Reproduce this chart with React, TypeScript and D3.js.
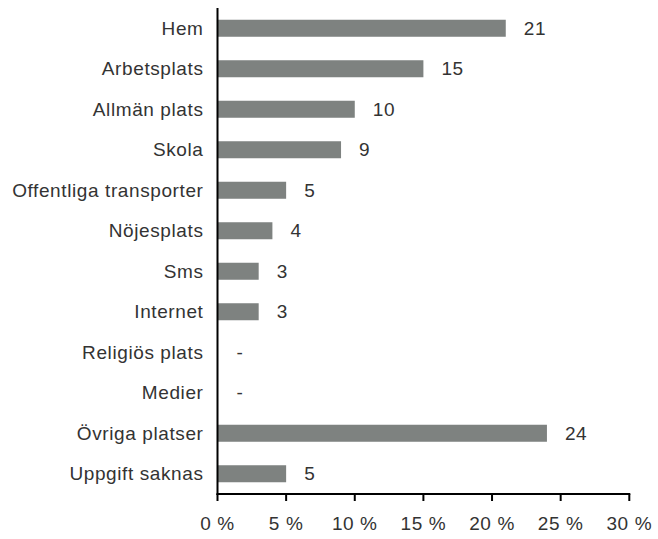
import React from "react";
import * as d3 from "d3";

const categories = [
  "Hem",
  "Arbetsplats",
  "Allmän plats",
  "Skola",
  "Offentliga transporter",
  "Nöjesplats",
  "Sms",
  "Internet",
  "Religiös plats",
  "Medier",
  "Övriga platser",
  "Uppgift saknas",
];
const values: (number | null)[] = [21, 15, 10, 9, 5, 4, 3, 3, null, null, 24, 5];
const valueLabels = ["21", "15", "10", "9", "5", "4", "3", "3", "-", "-", "24", "5"];
const xTicks = [0, 5, 10, 15, 20, 25, 30];

const W = 658;
const H = 539;
const left = 217.5;
const right = 629.3;
const top = 8;
const bottom = 494;
const FONT = "'Liberation Sans', Arial, sans-serif";
const TXT = "#333";

export default function App() {
  const x = d3.scaleLinear().domain([0, 30]).range([left, right]);
  const y = d3.scaleBand().domain(categories).range([top, bottom]).paddingInner(0.58).paddingOuter(0.29);
  return (
    <svg width={W} height={H} style={{ position: "absolute", left: 0, top: 0 }} fontFamily={FONT}>
      <rect width={W} height={H} fill="#fff" />
      {categories.map((c, i) => {
        const yc = (y(c) as number) + y.bandwidth() / 2;
        const v = values[i];
        return (
          <g key={c}>
            {v != null && (
              <rect x={x(0)} y={y(c)} width={x(v) - x(0)} height={y.bandwidth()} fill="#7e8280" />
            )}
            <text x={left - 14} y={yc} dy="0.35em" textAnchor="end" fontSize={19} letterSpacing={0.6} fill={TXT}>
              {c}
            </text>
            <text x={x(v ?? 0) + (v == null ? 19 : 18)} y={yc} dy="0.35em" fontSize={19} letterSpacing={0.6} fill={TXT}>
              {valueLabels[i]}
            </text>
          </g>
        );
      })}
      <line x1={left} x2={left} y1={top} y2={bottom + 1} stroke="#000" strokeWidth={2} />
      <line x1={left - 1} x2={right + 1} y1={bottom} y2={bottom} stroke="#000" strokeWidth={2} />
      {xTicks.map((t) => (
        <g key={t}>
          <line x1={x(t)} x2={x(t)} y1={bottom} y2={bottom + 7} stroke="#000" strokeWidth={2} />
          <text x={x(t)} y={523} dy="0.35em" textAnchor="middle" fontSize={19} letterSpacing={0.6} fill={TXT}>
            {`${t} %`}
          </text>
        </g>
      ))}
    </svg>
  );
}
